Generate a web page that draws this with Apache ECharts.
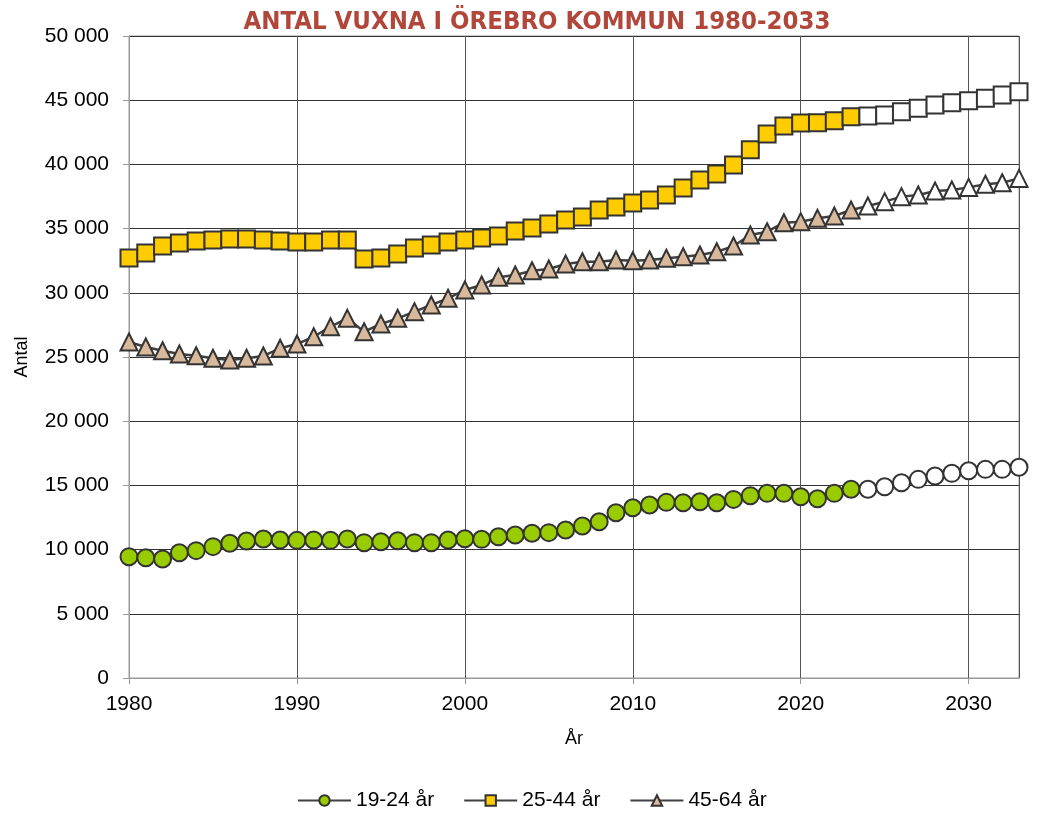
<!DOCTYPE html>
<html lang="sv">
<head>
    <meta charset="utf-8">
    <title>Antal vuxna i Örebro kommun 1980-2033</title>
    <script src="https://cdn.jsdelivr.net/npm/echarts@6/dist/echarts.min.js"></script>
    <style>
        html, body { margin: 0; padding: 0; background: #fff; }
        #main { width: 1037px; height: 817px; }
    </style>
</head>
<body>
<div id="main"></div>
<script type="text/javascript">
    // år 1980-2033
    var years = [];
    for (var y = 1980; y <= 2033; y++) years.push(y);
    // prognosår (öppna markörer) från 2024
    var forecastFrom = 2024;

    var age1924 = [9450, 9370, 9270, 9760, 9920, 10230, 10490, 10670, 10830, 10750,
        10720, 10750, 10720, 10830, 10540, 10610, 10690, 10540, 10540, 10750,
        10840, 10800, 11000, 11140, 11270, 11320, 11530, 11840, 12170, 12870,
        13260, 13470, 13680, 13650, 13730, 13650, 13910, 14200, 14380, 14380,
        14120, 13960, 14380, 14700, 14700, 14900, 15210, 15470, 15730, 15940,
        16140, 16250, 16250, 16410];
    var age2544 = [32710, 33100, 33640, 33880, 34030, 34110, 34190, 34190, 34110, 34030,
        33960, 33960, 34110, 34110, 32630, 32710, 33020, 33490, 33720, 33960,
        34110, 34270, 34420, 34810, 35050, 35360, 35670, 35900, 36450, 36680,
        36990, 37230, 37620, 38160, 38790, 39250, 39950, 41150, 42370, 42990,
        43220, 43250, 43400, 43710, 43770, 43850, 44100, 44370, 44630, 44800,
        44960, 45150, 45400, 45660];
    var age4564 = [26170, 25780, 25490, 25230, 25100, 24900, 24770, 24900, 25080, 25680,
        26010, 26580, 27360, 28010, 26970, 27570, 28010, 28530, 29050, 29570,
        30220, 30610, 31210, 31390, 31720, 31850, 32240, 32420, 32420, 32550,
        32500, 32550, 32690, 32810, 32940, 33200, 33640, 34500, 34760, 35460,
        35540, 35800, 35980, 36450, 36760, 37100, 37490, 37620, 37930, 38010,
        38210, 38450, 38570, 38910];

    var myChart = echarts.init(document.getElementById('main'));

    // bygg punkter, prognos = vit fyllning
    function points(values) {
        var arr = [];
        for (var i = 0; i < years.length; i++) {
            var p = { value: [years[i], values[i]] };
            if (years[i] >= forecastFrom) p.itemStyle = { color: '#ffffff' };
            arr.push(p);
        }
        return arr;
    }

    function makeSeries(name, values, symbol, size, fill) {
        return {
            name: name,
            type: 'line',
            data: points(values),
            symbol: symbol,
            symbolSize: size,
            showAllSymbol: true,
            lineStyle: { color: '#404040', width: 2.5 },
            itemStyle: { color: fill, borderColor: '#333333', borderWidth: 2 },
            emphasis: { disabled: true },
            z: 3
        };
    }

    var font = 'Liberation Sans, Arial, sans-serif';

    var option = {
        animation: false,
        title: {
            text: 'ANTAL VUXNA I ÖREBRO KOMMUN 1980-2033',
            left: 532,
            textAlign: 'center',
            top: 4,
            textStyle: {
                color: '#b0473a',
                fontFamily: 'Liberation Sans Narrow, DejaVu Sans Condensed, sans-serif',
                fontWeight: 'bold',
                fontSize: 25.5
            }
        },
        legend: {
            top: 785,
            left: 292,
            itemWidth: 53,
            itemHeight: 13,
            itemGap: 29,
            textStyle: { fontFamily: font, fontSize: 21, color: '#000' },
            data: ['19-24 år', '25-44 år', '45-64 år']
        },
        grid: {
            left: 129,
            right: 18,
            top: 36,
            bottom: 139,
            outerBoundsMode: 'none',
            show: true,
            borderColor: '#999999',
            borderWidth: 1
        },
        xAxis: {
            type: 'value',
            min: 1980,
            max: 2033,
            interval: 10,
            name: 'År',
            nameLocation: 'middle',
            nameGap: 52,
            nameTextStyle: { fontFamily: font, fontSize: 18, color: '#000' },
            axisLine: { show: true, lineStyle: { color: '#999999' } },
            axisTick: { show: true, length: 6, lineStyle: { color: '#999999' } },
            axisLabel: {
                fontFamily: font, fontSize: 21, color: '#000', margin: 16,
                showMaxLabel: false,
                formatter: function (v) { return String(v); }
            },
            splitLine: { show: true, lineStyle: { color: '#555555', width: 1 } }
        },
        yAxis: {
            type: 'value',
            min: 0,
            max: 50000,
            interval: 5000,
            name: 'Antal',
            nameLocation: 'middle',
            nameGap: 98,
            nameRotate: 90,
            nameTextStyle: { fontFamily: font, fontSize: 18, color: '#000' },
            axisLine: { show: true, lineStyle: { color: '#999999' } },
            axisTick: { show: true, length: 6, lineStyle: { color: '#999999' } },
            axisLabel: {
                fontFamily: font, fontSize: 21, color: '#000', margin: 20,
                formatter: function (v) {
                    return String(v).replace(/\B(?=(\d{3})+(?!\d))/g, ' ');
                }
            },
            splitLine: { show: true, lineStyle: { color: '#333333', width: 1 } }
        },
        series: [
            makeSeries('19-24 år', age1924, 'circle', 17, '#99cc00'),
            makeSeries('25-44 år', age2544, 'rect', 17, '#ffcc00'),
            makeSeries('45-64 år', age4564, 'triangle', 17, '#d9b99b')
        ]
    };

    myChart.setOption(option);
</script>
</body>
</html>
